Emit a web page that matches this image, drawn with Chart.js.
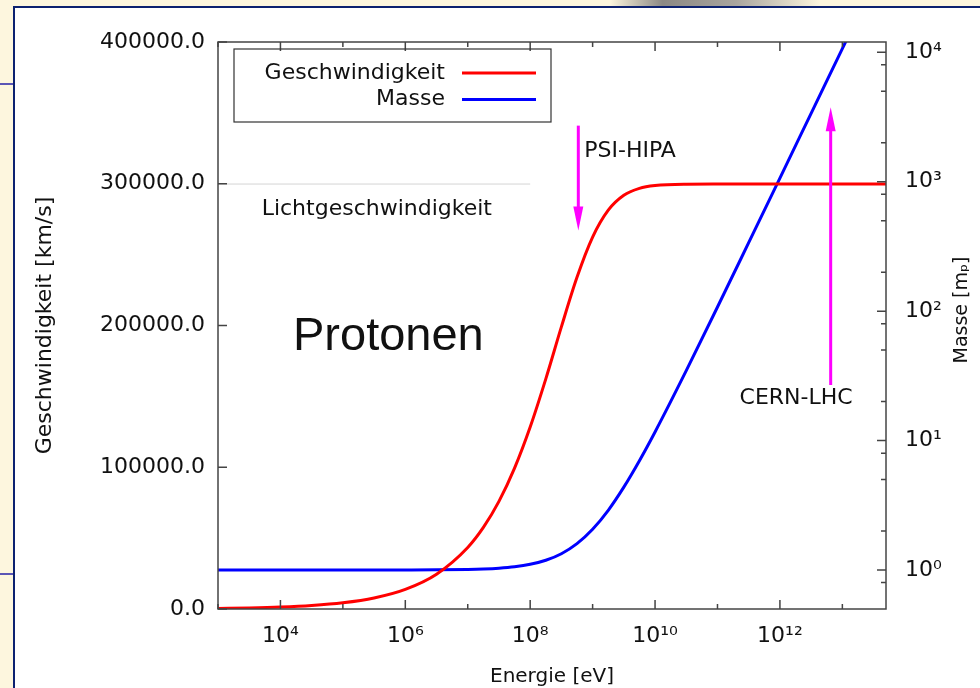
<!DOCTYPE html>
<html>
<head>
<meta charset="utf-8">
<script src="https://cdn.jsdelivr.net/npm/chart.js"></script>
<style>
  html, body { margin: 0; padding: 0; }
  body { width: 980px; height: 688px; position: relative; overflow: hidden; background: #fdf6de; }
  #photo { position: absolute; left: 610px; top: 0; width: 210px; height: 6px;
           background: linear-gradient(to right, #fdf6de 0%, #8c8984 25%, #a9a59e 60%, #fdf6de 100%); }
  #sidebox { position: absolute; left: -2px; top: 83px; width: 14px; height: 488px; border: 2px solid #5b55b5; }
  #panel { position: absolute; left: 13px; top: 6px; right: 0; bottom: 0; background: #fff;
           border-left: 2px solid #0c2170; border-top: 2px solid #0c2170; }
  #wrap { position: absolute; left: 0; top: 0; width: 980px; height: 688px; }
</style>
</head>
<body>
<div id="photo"></div>
<div id="sidebox"></div>
<div id="panel"></div>
<div id="wrap"><canvas id="myChart"></canvas></div>
<script>
// kinetic energy of the proton [eV]
const energy = [1e3, 3.16e3, 1e4, 3.16e4, 1e5, 3.16e5, 1e6, 3.16e6, 1e7, 1.78e7, 3.16e7, 5.62e7,
  1e8, 1.78e8, 3.16e8, 5.62e8, 1e9, 1.78e9, 3.16e9, 5.62e9, 1e10, 3.16e10, 1e11, 3.16e11,
  1e12, 3.16e12, 1e13, 3.16e13, 5e13];
// velocity [km/s]
const velocity = [438, 778, 1384, 2461, 4376, 7780, 13830, 24550, 43420, 57550, 75930, 99380,
  128370, 162350, 199000, 233960, 262330, 281340, 291840, 296710, 298690, 299670, 299780, 299790,
  299792, 299792, 299792, 299792, 299792];
// mass [m_p]
const mass = [1.0, 1.0, 1.0, 1.0, 1.0001, 1.0003, 1.0011, 1.0034, 1.0107, 1.019, 1.0337, 1.0599,
  1.1066, 1.1895, 1.337, 1.599, 2.066, 2.895, 4.37, 6.993, 11.66, 34.7, 107.6, 338.0,
  1067, 3371, 10660, 33700, 53420];

const xTickExps = [3, 4, 5, 6, 7, 8, 9, 10, 11, 12, 13];
const yMassTickExps = [0, 1, 2, 3, 4];
const lightSpeed = 299792;

const arrowLabels = ['PSI-HIPA', 'CERN-LHC'];
const arrowEnergy = [5.9e8, 6.5e12];
const arrowFrom = [341000, 158000];
const arrowTo = [267000, 354000];

const sup = {'0':'⁰','1':'¹','2':'²','3':'³','4':'⁴','5':'⁵','6':'⁶','7':'⁷','8':'⁸','9':'⁹'};
function pow10Label(v) {
  const e = Math.round(Math.log10(v));
  return '10' + String(e).split('').map(c => sup[c]).join('');
}

Chart.defaults.font.family = 'DejaVu Sans';
Chart.defaults.color = '#111';
const tickFont = { size: 22 };

// frame, inward tick marks, legend, labels and arrows
const decorations = {
  id: 'decorations',
  beforeDatasetsDraw(chart) {
    const { ctx, scales } = chart;
    const y = scales.yL.getPixelForValue(lightSpeed);
    ctx.save();
    ctx.strokeStyle = '#d4d4d4';
    ctx.lineWidth = 1;
    ctx.beginPath();
    ctx.moveTo(scales.x.getPixelForValue(1e3), y);
    ctx.lineTo(scales.x.getPixelForValue(1e8), y);
    ctx.stroke();
    ctx.fillStyle = '#111';
    ctx.font = '22px "DejaVu Sans"';
    ctx.textBaseline = 'middle';
    ctx.fillText('Lichtgeschwindigkeit', scales.x.getPixelForValue(5e3), y + 25);
    ctx.restore();
  },
  afterDraw(chart) {
    const { ctx, chartArea: a, scales } = chart;
    ctx.save();
    ctx.strokeStyle = '#444';
    ctx.lineWidth = 1.5;
    ctx.beginPath();
    scales.x.ticks.forEach(t => {
      const px = scales.x.getPixelForValue(t.value);
      const len = t.label ? 9 : 5;
      ctx.moveTo(px, a.bottom); ctx.lineTo(px, a.bottom - len);
      ctx.moveTo(px, a.top); ctx.lineTo(px, a.top + len);
    });
    scales.yL.ticks.forEach(t => {
      const py = scales.yL.getPixelForValue(t.value);
      ctx.moveTo(a.left, py); ctx.lineTo(a.left + 9, py);
    });
    scales.yR.ticks.forEach(t => {
      const py = scales.yR.getPixelForValue(t.value);
      ctx.moveTo(a.right, py); ctx.lineTo(a.right - 9, py);
      [2, 5, 8].forEach(m => {
        [t.value / 10, t.value].forEach(base => {
          const v = base * m;
          if (v > scales.yR.min && v < scales.yR.max) {
            const pm = scales.yR.getPixelForValue(v);
            ctx.moveTo(a.right, pm); ctx.lineTo(a.right - 5, pm);
          }
        });
      });
    });
    ctx.stroke();
    ctx.strokeRect(a.left, a.top, a.right - a.left, a.bottom - a.top);

    // legend
    ctx.lineWidth = 1.2;
    ctx.strokeStyle = '#333';
    ctx.strokeRect(234, 49, 317, 73);
    ctx.font = '22px "DejaVu Sans"';
    ctx.textAlign = 'right';
    ctx.textBaseline = 'middle';
    chart.data.datasets.forEach((ds, i) => {
      const ly = 73 + i * 26.5;
      ctx.fillStyle = '#111';
      ctx.fillText(ds.label, 445, ly);
      ctx.strokeStyle = ds.borderColor;
      ctx.lineWidth = 3;
      ctx.beginPath();
      ctx.moveTo(462, ly); ctx.lineTo(536, ly);
      ctx.stroke();
    });

    // arrows
    ctx.strokeStyle = '#ff00ff';
    ctx.fillStyle = '#ff00ff';
    arrowLabels.forEach((label, i) => {
      const px = scales.x.getPixelForValue(arrowEnergy[i]);
      const y0 = scales.yL.getPixelForValue(arrowFrom[i]);
      const y1 = scales.yL.getPixelForValue(arrowTo[i]);
      const dir = y1 > y0 ? 1 : -1;
      ctx.lineWidth = 3;
      ctx.beginPath();
      ctx.moveTo(px, y0); ctx.lineTo(px, y1 - dir * 16);
      ctx.stroke();
      ctx.beginPath();
      ctx.moveTo(px, y1);
      ctx.lineTo(px - 5, y1 - dir * 24);
      ctx.lineTo(px + 5, y1 - dir * 24);
      ctx.closePath();
      ctx.fill();
    });
    ctx.fillStyle = '#111';
    ctx.font = '22px "DejaVu Sans"';
    ctx.textAlign = 'left';
    ctx.fillText(arrowLabels[0], scales.x.getPixelForValue(arrowEnergy[0]) + 6, 151);
    ctx.textAlign = 'right';
    ctx.fillText(arrowLabels[1], scales.x.getPixelForValue(arrowEnergy[1]) + 22, 398);

    // big label
    ctx.textAlign = 'left';
    ctx.textBaseline = 'alphabetic';
    ctx.font = '47px "Liberation Sans"';
    ctx.fillText('Protonen', 293, 350);

    // right axis title, reading upwards
    ctx.translate(962, 310);
    ctx.rotate(-Math.PI / 2);
    ctx.textAlign = 'center';
    ctx.textBaseline = 'middle';
    ctx.font = '19px "DejaVu Sans"';
    ctx.fillText('Masse [mₚ]', 0, 0);
    ctx.restore();
  }
};

const ctx = document.getElementById('myChart');
new Chart(ctx, {
  type: 'line',
  data: {
    datasets: [{
      label: 'Geschwindigkeit',
      data: energy.map((e, i) => ({ x: e, y: velocity[i] })),
      yAxisID: 'yL',
      borderColor: '#ff0000',
      borderWidth: 3,
      pointRadius: 0,
      cubicInterpolationMode: 'monotone'
    }, {
      label: 'Masse',
      data: energy.map((e, i) => ({ x: e, y: mass[i] })),
      yAxisID: 'yR',
      borderColor: '#0000ff',
      borderWidth: 3,
      pointRadius: 0,
      cubicInterpolationMode: 'monotone'
    }]
  },
  options: {
    responsive: true,
    maintainAspectRatio: false,
    animation: false,
    layout: { padding: { top: 42, left: 0, right: 0, bottom: 0 } },
    plugins: { legend: { display: false }, tooltip: { enabled: false } },
    scales: {
      x: {
        type: 'logarithmic',
        position: 'bottom',
        min: 1e3,
        max: 5e13,
        bounds: 'data',
        afterBuildTicks: s => { s.ticks = xTickExps.map(p => ({ value: Math.pow(10, p) })); },
        afterFit: s => { s.height = 79; },
        grid: { display: false, drawTicks: false },
        border: { display: false },
        ticks: {
          autoSkip: false, maxRotation: 0, padding: 14, font: tickFont,
          callback: v => (Math.round(Math.log10(v)) % 2 === 0 ? pow10Label(v) : '')
        },
        title: { display: true, text: 'Energie [eV]', font: { size: 20 }, padding: { top: 0, bottom: -1 } }
      },
      yL: {
        type: 'linear',
        position: 'left',
        min: 0,
        max: 400000,
        afterFit: s => { s.width = 218; },
        grid: { display: false, drawTicks: false },
        border: { display: false },
        ticks: { stepSize: 100000, padding: 13, font: tickFont, callback: v => v.toFixed(1) },
        title: { display: true, text: 'Geschwindigkeit [km/s]', font: { size: 22 }, padding: { top: 32, bottom: 0 } }
      },
      yR: {
        type: 'logarithmic',
        position: 'right',
        min: 0.5,
        max: 12000,
        bounds: 'data',
        afterBuildTicks: s => { s.ticks = yMassTickExps.map(p => ({ value: Math.pow(10, p) })); },
        afterFit: s => { s.width = 94; },
        grid: { display: false, drawTicks: false },
        border: { display: false },
        ticks: { autoSkip: false, padding: 19, font: tickFont, callback: v => pow10Label(v) },
        title: { display: false }
      }
    }
  },
  plugins: [decorations]
});
</script>
</body>
</html>
